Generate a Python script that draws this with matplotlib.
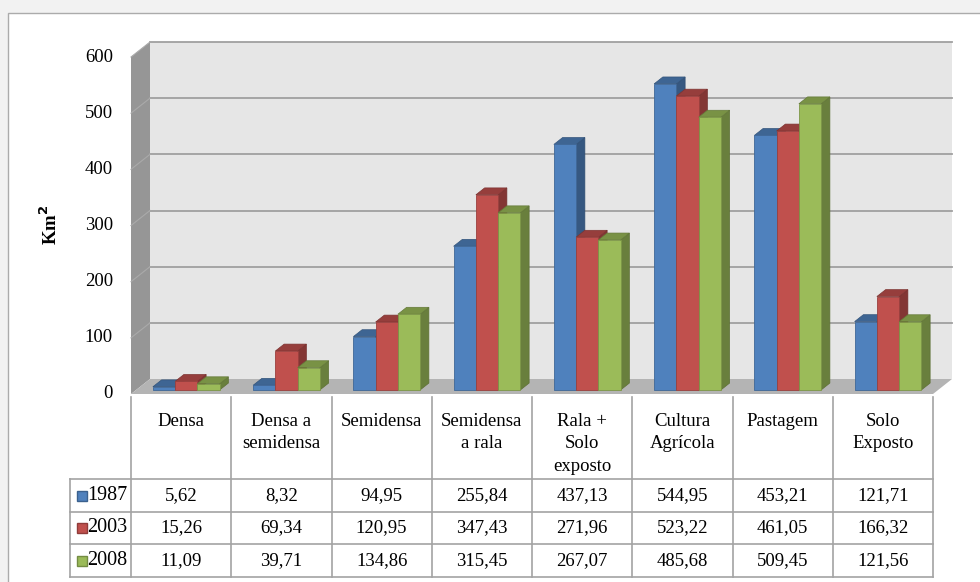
import numpy as np
import matplotlib.pyplot as plt
from matplotlib.patches import Polygon, Rectangle
from matplotlib.colors import to_rgb

plt.rcParams['font.family'] = ['Liberation Serif', 'DejaVu Serif']
plt.rcParams['font.size'] = 13.5

# area por classe de cobertura (km2)
classes = ["Densa", "Densa a\nsemidensa", "Semidensa", "Semidensa\na rala",
           "Rala +\nSolo\nexposto", "Cultura\nAgrícola", "Pastagem", "Solo\nExposto"]
years = ["1987", "2003", "2008"]
area_1987 = [5.62, 8.32, 94.95, 255.84, 437.13, 544.95, 453.21, 121.71]
area_2003 = [15.26, 69.34, 120.95, 347.43, 271.96, 523.22, 461.05, 166.32]
area_2008 = [11.09, 39.71, 134.86, 315.45, 267.07, 485.68, 509.45, 121.56]
y_ticks = [0, 100, 200, 300, 400, 500, 600]
colors = ["#4f81bd", "#c0504d", "#9bbb59"]
series = [area_1987, area_2003, area_2008]


def shade(c, f):
    return tuple(v * f for v in to_rgb(c))


W, H = 980, 582
fig = plt.figure(figsize=(W / 100, H / 100), dpi=100, facecolor="#f2f2f2")

# moldura do grafico
bg = fig.add_axes([0, 0, 1, 1])
bg.set_xlim(0, W)
bg.set_ylim(H, 0)
bg.axis("off")
bg.add_patch(Rectangle((8, 13), 1000, 600, fc="white", ec="#ababab", lw=1))
bg.text(50, 225, "Km$\\mathbf{^2}$", rotation=90, ha="center", va="center",
        fontweight="bold")

# area de plotagem (plano frontal)
x0, x1, y0, y1 = 131, 933, 394, 57
ncat = len(classes)
cat_px = (x1 - x0) / ncat
ax = fig.add_axes([x0 / W, 1 - y0 / H, (x1 - x0) / W, (y0 - y1) / H])
ax.set_xlim(0, ncat)
ax.set_ylim(0, 600)
ax.axis("off")

# profundidade 3D em unidades de dados
ddx = 19 / cat_px
ddy = 15 / ((y0 - y1) / 600)
top = y_ticks[-1]

ax.add_patch(Polygon([(ddx, ddy), (ncat + ddx, ddy), (ncat + ddx, top + ddy), (ddx, top + ddy)],
                     fc="#e6e6e6", ec="none", clip_on=False, zorder=0))
ax.add_patch(Polygon([(0, 0), (ddx, ddy), (ddx, top + ddy), (0, top)],
                     fc="#969696", ec="none", clip_on=False, zorder=0))
ax.add_patch(Polygon([(0, 0), (ncat, 0), (ncat + ddx, ddy), (ddx, ddy)],
                     fc="#b4b4b4", ec="none", clip_on=False, zorder=0.5))

for v in y_ticks[1:]:
    ax.plot([ddx, ncat + ddx], [v + ddy, v + ddy], color="#a0a0a0", lw=1.3,
            clip_on=False, zorder=1)
    ax.plot([0, ddx], [v, v + ddy], color="#aaaaaa", lw=0.8, clip_on=False, zorder=1)
for v in y_ticks:
    ax.text((113 - x0) / cat_px, v, str(v), ha="right", va="center")

# colunas 3D
d0, d1 = 0.27, 0.73
bw = 0.222
start = (1 - 3 * bw) / 2
sx, sy = (d1 - d0) * ddx, (d1 - d0) * ddy
idx = np.arange(ncat)
for j, (vals, c) in enumerate(zip(series, colors)):
    z = 2 + j * 0.1
    xs = idx + start + j * bw + d0 * ddx
    yb = d0 * ddy
    for xl, v in zip(xs, vals):
        xr, yt = xl + bw, v + yb
        ax.add_patch(Polygon([(xr, yb), (xr + sx, yb + sy), (xr + sx, yt + sy), (xr, yt)],
                             fc=shade(c, 0.68), ec=shade(c, 0.6), lw=0.5,
                             clip_on=False, zorder=z))
        ax.add_patch(Polygon([(xl, yt), (xr, yt), (xr + sx, yt + sy), (xl + sx, yt + sy)],
                             fc=shade(c, 0.78), ec=shade(c, 0.65), lw=0.5,
                             clip_on=False, zorder=z))
    ax.bar(xs, vals, bw, bottom=yb, align="edge", color=c, edgecolor=shade(c, 0.8),
           lw=0.6, zorder=z, clip_on=False)

# tabela de dados
lx = (70 - x0) / cat_px
tb = fig.add_axes([70 / W, 1 - 577 / H, (x1 - 70) / W, (577 - y0) / H])
tb.set_xlim(lx, ncat)
tb.set_ylim(183, 0)
tb.axis("off")
grid = "#a3a3a3"
rows = [85, 118, 150, 183]
for k in range(ncat + 1):
    tb.plot([k, k], [3, 183], color=grid, lw=1.2, clip_on=False)
tb.plot([lx, lx], [85, 183], color=grid, lw=1.2, clip_on=False)
for r in rows:
    tb.plot([lx, ncat], [r, r], color=grid, lw=1.2, clip_on=False)

for i, name in enumerate(classes):
    tb.text(i + 0.5, 19, name, ha="center", va="top", linespacing=1.42)

for j, (vals, c, yr) in enumerate(zip(series, colors, years)):
    rc = (rows[j] + rows[j + 1]) / 2
    tb.plot([(81.5 - x0) / cat_px], [rc], marker="s", ms=6.5, color=c,
            mec=shade(c, 0.75), clip_on=False)
    tb.text((87 - x0) / cat_px, rc, yr, ha="left", va="center", fontsize=14.5)
    for i, v in enumerate(vals):
        tb.text(i + 0.5, rc, f"{v:.2f}".replace(".", ","), ha="center", va="center")

fig.savefig("out.png", dpi=100, facecolor=fig.get_facecolor())
